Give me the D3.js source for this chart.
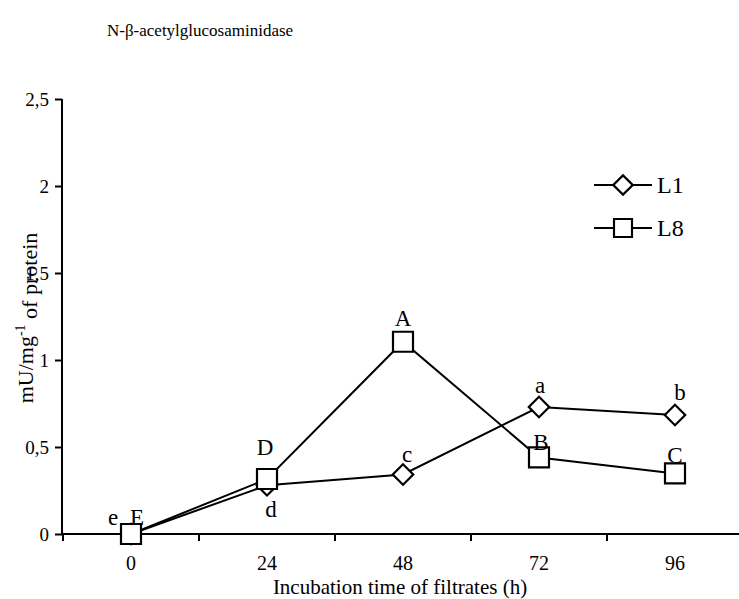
<!DOCTYPE html>
<html>
<head>
<meta charset="utf-8">
<script src="https://cdn.jsdelivr.net/npm/d3@7"></script>
<style>
  html, body { margin: 0; padding: 0; background: #fff; }
  svg { display: block; }
</style>
</head>
<body>
<svg id="chart" width="739" height="599"></svg>
<script>
// Incubation times (h)
const hours = ["0", "24", "48", "72", "96"];
// Enzyme activity, mU/mg-1 of protein
const l1Values = [0, 0.28, 0.342, 0.73, 0.684];
const l8Values = [0, 0.316, 1.105, 0.44, 0.348];
// Significance letters beside each point
const l1Letters = ["e", "d", "c", "a", "b"];
const l8Letters = ["E", "D", "A", "B", "C"];
const yTicks = [0, 0.5, 1, 1.5, 2, 2.5];

const FONT = "Liberation Serif";

const svg = d3.select("#chart");

const x = d3.scaleBand().domain(hours).range([63, 743]).padding(0);
const y = d3.scaleLinear().domain([0, 2.5]).range([534, 99]);
const cx = h => x(h) + x.bandwidth() / 2;

// Title
svg.append("text").attr("x", 107).attr("y", 36)
  .attr("font-family", FONT).attr("font-size", 17)
  .text("N-\u03b2-acetylglucosaminidase");

// Y axis
const yAxis = svg.append("g").attr("transform", "translate(62,0)")
  .call(d3.axisLeft(y).tickValues(yTicks).tickSize(7).tickPadding(6)
    .tickFormat(d => String(d).replace(".", ",")));
yAxis.attr("font-family", FONT).attr("font-size", 19);
yAxis.select(".domain").attr("stroke", "#000").attr("stroke-width", 2)
  .attr("d", `M0,${y(2.5)}V${y(0)}`);
yAxis.selectAll(".tick line").attr("stroke", "#000").attr("stroke-width", 2);
yAxis.selectAll(".tick text").attr("dy", "0.34em").attr("fill", "#000");

// X axis: ticks sit on the category boundaries, labels in the band centres
const xb = svg.append("g").attr("transform", `translate(0,${y(0)})`);
xb.append("line").attr("x1", 62).attr("x2", 743)
  .attr("stroke", "#000").attr("stroke-width", 2);
xb.selectAll("line.tk").data(hours).join("line").attr("class", "tk")
  .attr("x1", d => x(d)).attr("x2", d => x(d)).attr("y1", 0).attr("y2", 7)
  .attr("stroke", "#000").attr("stroke-width", 2);
xb.selectAll("text.lb").data(hours).join("text").attr("class", "lb")
  .attr("x", d => cx(d)).attr("y", 36).attr("text-anchor", "middle")
  .attr("font-family", FONT).attr("font-size", 20).text(d => d);

// Axis titles
svg.append("text").attr("x", 400).attr("y", 594).attr("text-anchor", "middle")
  .attr("font-family", FONT).attr("font-size", 21)
  .text("Incubation time of filtrates (h)");

const yl = svg.append("text").attr("transform", "translate(33,318) rotate(-90)")
  .attr("text-anchor", "middle").attr("font-family", FONT).attr("font-size", 22);
yl.append("tspan").text("mU/mg");
yl.append("tspan").attr("dy", "-0.55em").attr("font-size", 14).text("-1");
yl.append("tspan").attr("dy", "0.55em").text(" of protein");

// Series
const line = d3.line().x((d, i) => cx(hours[i])).y(d => y(d));
const diamond = d3.symbol().type(d3.symbolSquare).size(210);
const square = d3.symbol().type(d3.symbolSquare).size(400);

function drawSeries(values, shape, rotate) {
  svg.append("path").datum(values).attr("d", line)
    .attr("fill", "none").attr("stroke", "#000").attr("stroke-width", 2);
  svg.selectAll(null).data(values).join("path")
    .attr("d", shape)
    .attr("transform", (d, i) => `translate(${cx(hours[i])},${y(d)}) rotate(${rotate})`)
    .attr("fill", "#fff").attr("stroke", "#000").attr("stroke-width", 2.2);
}
drawSeries(l1Values, diamond, 45);
drawSeries(l8Values, square, 0);

// Letters: offsets relative to each point
const l1Offsets = [[-18, -9], [4, 32], [4, -12], [1, -14], [5, -15]];
const l8Offsets = [[6, -9], [-2, -24], [0, -16], [2, -7], [0, -10]];
function drawLetters(values, letters, offsets) {
  svg.selectAll(null).data(values).join("text")
    .attr("x", (d, i) => cx(hours[i]) + offsets[i][0])
    .attr("y", (d, i) => y(d) + offsets[i][1])
    .attr("text-anchor", "middle")
    .attr("font-family", FONT).attr("font-size", 23)
    .text((d, i) => letters[i]);
}
drawLetters(l1Values, l1Letters, l1Offsets);
drawLetters(l8Values, l8Letters, l8Offsets);

// Legend
const legend = [
  { name: "L1", shape: diamond, rot: 45, yPos: 185 },
  { name: "L8", shape: square, rot: 0, yPos: 228 }
];
const lg = svg.selectAll("g.leg").data(legend).join("g").attr("class", "leg")
  .attr("transform", d => `translate(0,${d.yPos})`);
lg.append("line").attr("x1", 594).attr("x2", 652)
  .attr("stroke", "#000").attr("stroke-width", 2);
lg.append("path").attr("d", d => d.shape())
  .attr("transform", d => `translate(623,0) rotate(${d.rot}) scale(${d.rot ? 0.95 : 0.9})`)
  .attr("fill", "#fff").attr("stroke", "#000").attr("stroke-width", 2.4);
lg.append("text").attr("x", 657).attr("y", 8)
  .attr("font-family", FONT).attr("font-size", 24)
  .text(d => d.name);
</script>
</body>
</html>
